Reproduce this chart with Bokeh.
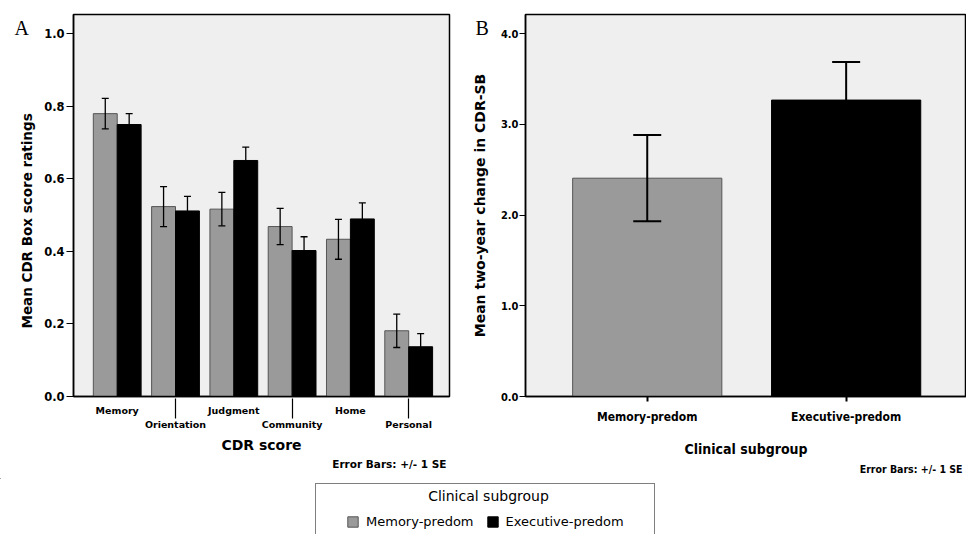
from bokeh.plotting import figure
from bokeh.models import (ColumnDataSource, Whisker, TeeHead, FixedTicker, Range1d, Title,
                          Label, Legend, LegendItem, LinearAxis, PrintfTickFormatter)
from bokeh.layouts import row, column
from bokeh.core.properties import value
from bokeh.embed import file_html
from bokeh.resources import INLINE

# ---------------- data ----------------
cdr_items = ["Memory", "Orientation", "Judgment", "Community", "Home", "Personal"]
groups = ["Memory-predom", "Executive-predom"]
mem_mean = [0.779, 0.523, 0.516, 0.468, 0.433, 0.181]
mem_se = [0.042, 0.055, 0.046, 0.050, 0.055, 0.046]
exe_mean = [0.749, 0.511, 0.650, 0.402, 0.489, 0.137]
exe_se = [0.030, 0.040, 0.037, 0.038, 0.044, 0.036]
change_mean = [2.406, 3.267]
change_se = [0.475, 0.420]
yticks_a = [0.0, 0.2, 0.4, 0.6, 0.8, 1.0]
yticks_b = [0.0, 1.0, 2.0, 3.0, 4.0]
error_note = "Error Bars: +/- 1 SE"
legend_title = "Clinical subgroup"
panel_letters = ["A", "B"]

# ---------------- style ----------------
GRAY = "#9a9a9a"
GRAY_LINE = "#555555"
BG = "#efefef"
FONT_A = "DejaVu Sans"
FONT_B = "DejaVu Sans Condensed"
PAGE_W = 966
ROW_H = 478
STRIP_H = 60
LEG_H = 56
LETTER_POS_X = [14, 475]   # page pixels of the panel letters
LETTER_POS_Y = [27, 27]

# ================= Panel A =================
idx = list(range(len(cdr_items)))
dodge = 0.205
src_a = ColumnDataSource(dict(
    x_mem=[i - dodge for i in idx], x_exe=[i + dodge for i in idx],
    mem=mem_mean, exe=exe_mean,
    mem_lo=[m - s for m, s in zip(mem_mean, mem_se)], mem_hi=[m + s for m, s in zip(mem_mean, mem_se)],
    exe_lo=[m - s for m, s in zip(exe_mean, exe_se)], exe_hi=[m + s for m, s in zip(exe_mean, exe_se)],
))

pa = figure(width=468, height=ROW_H, output_backend="svg", toolbar_location=None,
            x_range=Range1d(-0.75, 5.70), y_range=Range1d(0, 1.052),
            x_axis_type=None, y_axis_location="left",
            min_border_left=73, min_border_right=19, min_border_top=14, min_border_bottom=81)
pa.background_fill_color = BG
pa.border_fill_color = "white"
pa.outline_line_color = "black"
pa.outline_line_width = 1.5
pa.grid.visible = False

pa.vbar(x="x_mem", top="mem", width=0.41, source=src_a,
        fill_color=GRAY, line_color=GRAY_LINE, line_width=1)
pa.vbar(x="x_exe", top="exe", width=0.41, source=src_a,
        fill_color="black", line_color="black", line_width=1)

for base, lo, hi in (("x_mem", "mem_lo", "mem_hi"), ("x_exe", "exe_lo", "exe_hi")):
    w = Whisker(base=base, lower=lo, upper=hi, source=src_a, level="overlay",
                line_color="black", line_width=1.3,
                upper_head=TeeHead(size=7, line_color="black", line_width=1.3),
                lower_head=TeeHead(size=7, line_color="black", line_width=1.3))
    pa.add_layout(w)

ya = pa.yaxis[0]
ya.ticker = FixedTicker(ticks=yticks_a)
ya.formatter = PrintfTickFormatter(format="%.1f")
ya.major_tick_out = 7
ya.major_tick_in = 0
ya.minor_tick_line_color = None
ya.major_label_standoff = 2
ya.major_label_text_font = FONT_A
ya.major_label_text_font_style = "bold"
ya.major_label_text_font_size = "11.5px"
ya.major_label_text_color = "black"
ya.axis_line_color = "black"
ya.axis_line_width = 1.5
ya.major_tick_line_width = 1.2

ax1 = LinearAxis(ticker=FixedTicker(ticks=idx[0::2]),
                 major_label_overrides={i: cdr_items[i] for i in idx[0::2]},
                 major_tick_out=0, major_tick_in=0, major_label_standoff=8,
                 axis_line_color="black", axis_line_width=1.5,
                 major_label_text_font=FONT_A, major_label_text_font_style="bold",
                 major_label_text_font_size="9.5px", major_label_text_color="black",
                 minor_tick_line_color=None)
ax2 = LinearAxis(ticker=FixedTicker(ticks=idx[1::2]),
                 major_label_overrides={i: cdr_items[i] for i in idx[1::2]},
                 major_tick_out=0, major_tick_in=20, major_label_standoff=0,
                 major_tick_line_width=1.2, major_tick_line_color="black",
                 axis_line_color=None,
                 major_label_text_font=FONT_A, major_label_text_font_style="bold",
                 major_label_text_font_size="9.5px", major_label_text_color="black",
                 minor_tick_line_color=None,
                 axis_label="CDR score", axis_label_standoff=4,
                 axis_label_text_font=FONT_A, axis_label_text_font_style="bold",
                 axis_label_text_font_size="14px", axis_label_text_color="black")
pa.add_layout(ax1, "below")
pa.add_layout(ax2, "below")
pa.add_layout(Title(text=error_note, align="right", offset=3, text_font=FONT_A,
                    text_font_style="bold", text_font_size="10.5px", text_color="black",
                    standoff=0), "below")
pa.add_layout(Title(text="Mean CDR Box score ratings", align="left", offset=68,
                    text_font=FONT_A, text_font_style="bold", text_font_size="13.5px",
                    text_color="black", standoff=14), "left")

# ================= Panel B =================
xb = list(range(len(groups)))
src_b = ColumnDataSource(dict(
    x=xb, mean=change_mean,
    lo=[m - s for m, s in zip(change_mean, change_se)],
    hi=[m + s for m, s in zip(change_mean, change_se)],
    fill=[GRAY, "black"], line=[GRAY_LINE, "black"],
))

pb = figure(width=498, height=ROW_H, output_backend="svg", toolbar_location=None,
            x_range=Range1d(-0.612, 1.605), y_range=Range1d(0, 4.21),
            min_border_left=56, min_border_right=0, min_border_top=14, min_border_bottom=82)
pb.background_fill_color = BG
pb.border_fill_color = "white"
pb.outline_line_color = "black"
pb.outline_line_width = 1.5
pb.grid.visible = False

pb.vbar(x="x", top="mean", width=0.75, source=src_b,
        fill_color="fill", line_color="line", line_width=1)
pb.add_layout(Whisker(base="x", lower="lo", upper="hi", source=src_b, level="overlay",
                      line_color="black", line_width=2,
                      upper_head=TeeHead(size=28, line_color="black", line_width=2),
                      lower_head=TeeHead(size=28, line_color="black", line_width=2)))

xax = pb.xaxis[0]
xax.ticker = FixedTicker(ticks=xb)
xax.major_label_overrides = {i: groups[i] for i in xb}
xax.major_tick_out = 5
xax.major_tick_in = 0
xax.major_tick_line_width = 2
xax.minor_tick_line_color = None
xax.major_label_standoff = 8
xax.major_label_text_font = FONT_B
xax.major_label_text_font_style = "bold"
xax.major_label_text_font_size = "12px"
xax.major_label_text_color = "black"
xax.axis_line_color = "black"
xax.axis_line_width = 1.5
xax.axis_label = "Clinical subgroup"
xax.axis_label_standoff = 14
xax.axis_label_text_font = FONT_B
xax.axis_label_text_font_style = "bold"
xax.axis_label_text_font_size = "14px"
xax.axis_label_text_color = "black"

yb = pb.yaxis[0]
yb.ticker = FixedTicker(ticks=yticks_b)
yb.formatter = PrintfTickFormatter(format="%.1f")
yb.major_tick_out = 6
yb.major_tick_in = 0
yb.minor_tick_line_color = None
yb.major_label_standoff = 1
yb.major_label_text_font = FONT_B
yb.major_label_text_font_style = "bold"
yb.major_label_text_font_size = "11px"
yb.major_label_text_color = "black"
yb.axis_line_color = "black"
yb.axis_line_width = 1.5
yb.axis_label = "Mean two-year change in CDR-SB"
yb.axis_label_standoff = 10
yb.axis_label_text_font = FONT_A
yb.axis_label_text_font_style = "bold"
yb.axis_label_text_font_size = "14px"
yb.axis_label_text_color = "black"

pb.add_layout(Title(text=error_note, align="right", offset=4, text_font=FONT_B,
                    text_font_style="bold", text_font_size="10.5px", text_color="black",
                    standoff=3), "below")

# ================= Panel letters (transparent strip laid over the top of the row) =================
pt = figure(width=PAGE_W, height=STRIP_H, output_backend="svg", toolbar_location=None,
            x_range=Range1d(0, PAGE_W), y_range=Range1d(STRIP_H, 0),
            x_axis_type=None, y_axis_type=None, min_border=0,
            margin=(-ROW_H, 0, ROW_H - STRIP_H, 0))
pt.outline_line_color = None
pt.background_fill_alpha = 0
pt.border_fill_alpha = 0
pt.grid.visible = False
pt.text(x=LETTER_POS_X, y=LETTER_POS_Y, text=panel_letters,
        text_font=value("Liberation Serif"), text_font_size="20px",
        text_color="black", text_baseline="alphabetic", text_align="left")

# ================= Legend strip =================
pl = figure(width=PAGE_W, height=LEG_H, output_backend="svg", toolbar_location=None,
            x_range=Range1d(0, PAGE_W), y_range=Range1d(LEG_H, 0),
            x_axis_type=None, y_axis_type=None, min_border=0)
pl.outline_line_color = None
pl.background_fill_color = "white"
pl.border_fill_color = "white"
pl.grid.visible = False
# placeholder bars outside the visible range, used only for the legend swatches
r1 = pl.vbar(x=[-50], top=[0], width=1, fill_color=GRAY, line_color=GRAY_LINE, line_width=1)
r2 = pl.vbar(x=[-50], top=[0], width=1, fill_color="black", line_color="black", line_width=1)
leg = Legend(items=[LegendItem(label=groups[0], renderers=[r1]),
                    LegendItem(label=groups[1], renderers=[r2])],
             orientation="horizontal", location=(315, -26), margin=0, padding=30,
             spacing=12, label_standoff=7, glyph_width=13, glyph_height=13,
             border_line_color="black", border_line_width=1.5, background_fill_alpha=0,
             label_text_font=FONT_A, label_text_font_size="13px", label_text_color="black")
pl.add_layout(leg, "center")
pl.add_layout(Label(x=488, y=17, text=legend_title, text_align="center", text_baseline="middle",
                    text_font=FONT_A, text_font_size="14px", text_color="black"))

layout = column(row(pa, pb), pt, pl)
open("out.html", "w").write(file_html(layout, INLINE))
